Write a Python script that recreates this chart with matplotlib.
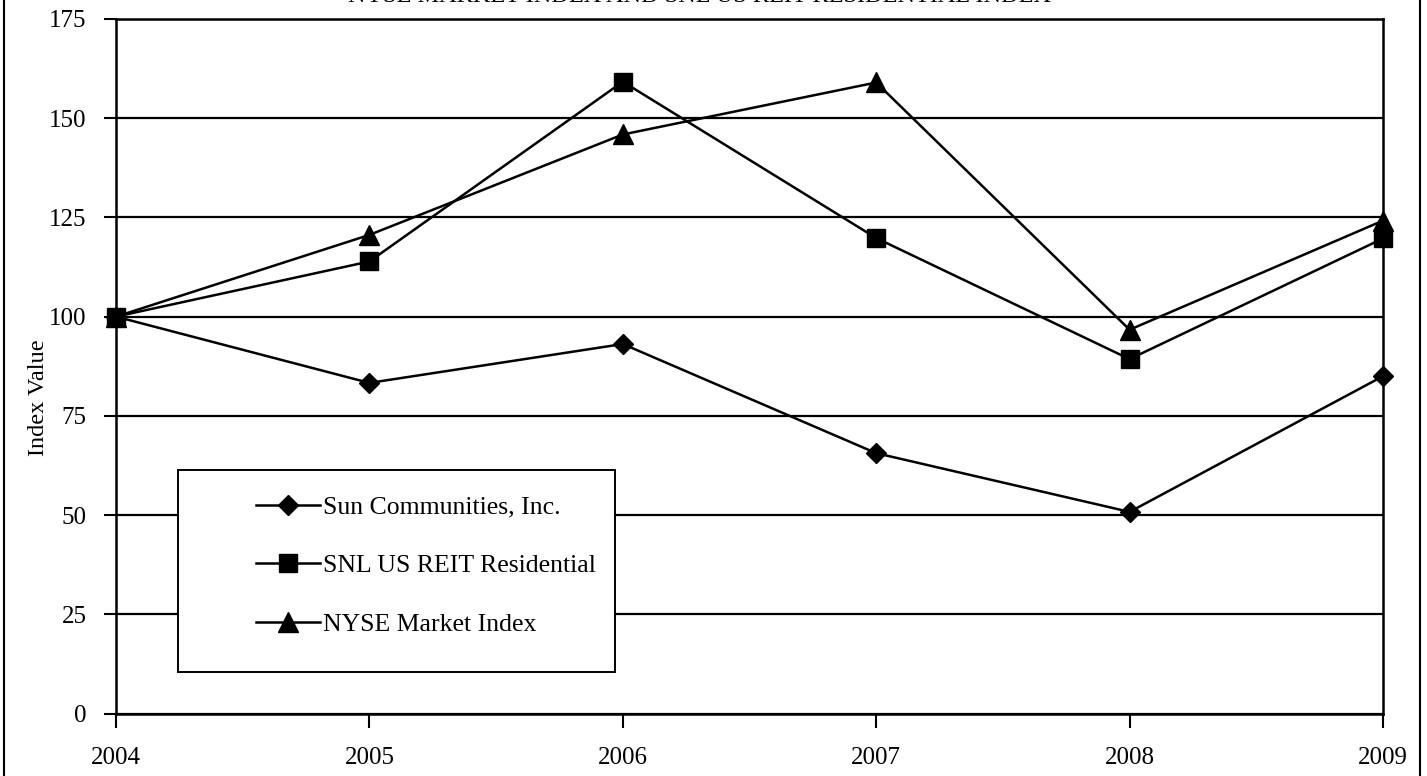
import matplotlib
matplotlib.use("Agg")
import matplotlib.pyplot as plt
from matplotlib.patches import Rectangle
from matplotlib.lines import Line2D

years = ["2004", "2005", "2006", "2007", "2008", "2009"]
sun = [100, 83.3, 93.1, 65.6, 50.8, 85.0]
snl = [100, 113.9, 159.2, 119.8, 89.3, 119.7]
nyse = [100, 120.6, 145.9, 159.0, 96.7, 124.2]
labels = ["Sun Communities, Inc.", "SNL US REIT Residential", "NYSE Market Index"]
yticks = [0, 25, 50, 75, 100, 125, 150, 175]

plt.rcParams['font.family'] = ['Liberation Serif', 'DejaVu Serif']

W, H = 1427, 776
fig = plt.figure(figsize=(W / 100, H / 100), dpi=100)
ax = fig.add_axes([116 / W, 1 - 713.5 / H, (1383 - 116) / W, (713.5 - 19) / H])

x = list(range(len(years)))
lw = 1.8
h1, = ax.plot(x, sun, color='black', lw=lw, marker='D', markersize=10.5, label=labels[0], clip_on=False, zorder=3)
h2, = ax.plot(x, snl, color='black', lw=lw, marker='s', markersize=12.5, label=labels[1], clip_on=False, zorder=3)
h3, = ax.plot(x, nyse, color='black', lw=lw, marker='^', markersize=15, label=labels[2], clip_on=False, zorder=3)

ax.set_xlim(0, len(years) - 1)
ax.set_ylim(0, 175)
ax.set_xticks(x)
ax.set_xticklabels(years)
ax.set_yticks(yticks)
ax.set_yticklabels([str(v) for v in yticks])
ax.tick_params(axis='x', direction='out', length=10, width=1.5, pad=14, labelsize=18)
ax.tick_params(axis='y', direction='out', length=9, width=1.5, pad=12, labelsize=18)
ax.yaxis.grid(True, color='black', lw=1.6)
ax.set_axisbelow(True)
for s in ['left', 'right', 'top', 'bottom']:
    ax.spines[s].set_linewidth(1.8)
    ax.spines[s].set_color('black')

fig.text(38 / W, 1 - 398 / H, "Index Value", rotation=90, ha='center', va='center', fontsize=17.5)

fig.text(700 / W, 1 - 1.5 / H, "NYSE MARKET INDEX AND SNL US REIT RESIDENTIAL INDEX",
         ha='center', va='baseline', fontsize=17.5)

# legend box
fig.patches.append(Rectangle((178 / W, 1 - 672 / H), (615 - 178) / W, (672 - 470) / H,
                             transform=fig.transFigure, facecolor='white', edgecolor='black',
                             lw=1.4, zorder=4))
leg = fig.legend(handles=[h1, h2, h3], loc='center left',
                 bbox_to_anchor=(256 / W, 1 - 566 / H), frameon=False,
                 fontsize=18.5, handlelength=2.5, handletextpad=0.1,
                 labelspacing=1.4, borderpad=0, borderaxespad=0)
leg.set_zorder(5)

# figure border lines
fig.add_artist(Line2D([4 / W, 4 / W], [0, 1], transform=fig.transFigure, color='black', lw=1.5))
fig.add_artist(Line2D([1420 / W, 1420 / W], [0, 1], transform=fig.transFigure, color='black', lw=1.5))

fig.savefig("out.png", dpi=100, facecolor='white')
